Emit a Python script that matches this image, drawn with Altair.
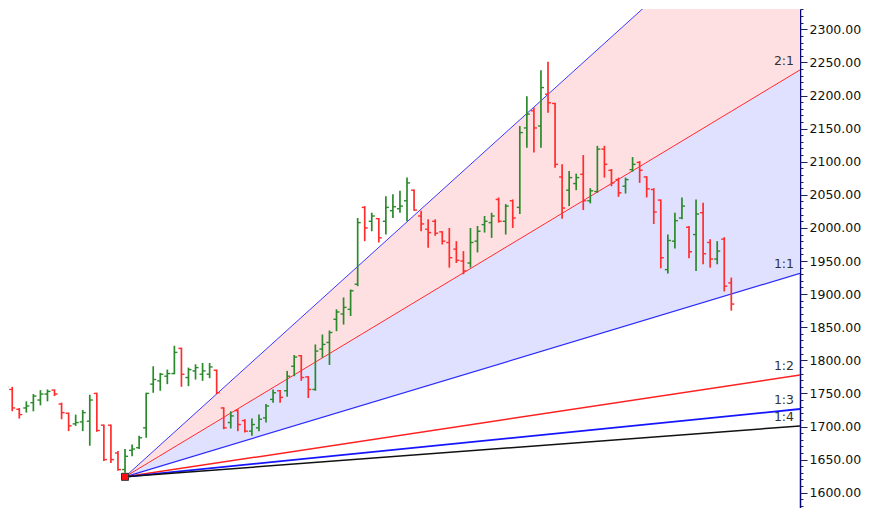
import altair as alt
import pandas as pd
import numpy as np

# ---- OHLC data (bar index 0 = fan anchor bar) ----
bar_index = list(range(-17, 87))
opens = [1755, 1756, 1726, 1728, 1736, 1740, 1749, 1755, 1734, 1720, 1704, 1707, 1708, 1750, 1702, 1702, 1660,
         1635, 1664, 1668, 1698, 1764, 1769, 1776, 1780, 1818, 1774, 1784, 1779, 1779, 1785, 1728, 1706, 1724,
         1709, 1693, 1698, 1713, 1741, 1754, 1754, 1791, 1807, 1775, 1756, 1817, 1827, 1862, 1870, 1877, 1915,
         2031, 2010, 2014, 2010, 2026, 2029, 2041, 2057, 2018, 1998, 2010, 1994, 1978, 1968, 1950, 1947, 1980,
         2005, 2008, 2043, 2010, 2041, 2031, 2151, 2177, 2154, 2202, 2188, 2077, 2057, 2067, 2081, 2041, 2055,
         2119, 2087, 2073, 2063, 2088, 2099, 2077, 2058, 2042, 1937, 1980, 2015, 2001, 1990, 2023, 1978, 1953,
         1983, 1917]
highs = [1766, 1760, 1728, 1738, 1749, 1755, 1756, 1756, 1736, 1721, 1718, 1725, 1748, 1751, 1703, 1703, 1663,
         1666, 1673, 1686, 1751, 1791, 1781, 1786, 1822, 1819, 1789, 1794, 1796, 1796, 1786, 1729, 1723, 1726,
         1711, 1712, 1718, 1734, 1756, 1755, 1784, 1808, 1808, 1776, 1824, 1839, 1845, 1877, 1895, 1907, 2015,
         2033, 2023, 2015, 2048, 2051, 2056, 2076, 2058, 2026, 2013, 2013, 1995, 2000, 1980, 1965, 2000, 2003,
         2018, 2023, 2046, 2036, 2043, 2154, 2199, 2182, 2238, 2251, 2189, 2096, 2086, 2082, 2110, 2060, 2124,
         2124, 2089, 2076, 2076, 2107, 2101, 2078, 2060, 2043, 1990, 2023, 2046, 2003, 2043, 2038, 1983, 1980,
         1986, 1925]
lows = [1741, 1723, 1712, 1721, 1723, 1732, 1738, 1746, 1711, 1693, 1701, 1693, 1671, 1692, 1648, 1645, 1633,
        1630, 1655, 1666, 1683, 1751, 1754, 1764, 1779, 1760, 1761, 1771, 1769, 1773, 1749, 1696, 1697, 1693,
        1691, 1686, 1693, 1706, 1736, 1736, 1745, 1776, 1769, 1743, 1754, 1804, 1793, 1844, 1854, 1867, 1912,
        1980, 1995, 1978, 1990, 2015, 2023, 2010, 2026, 1995, 1970, 1988, 1975, 1940, 1947, 1930, 1940, 1963,
        1993, 1985, 2008, 1990, 2000, 2021, 2121, 2114, 2121, 2174, 2091, 2014, 2033, 2057, 2027, 2037, 2053,
        2076, 2063, 2047, 2052, 2085, 2068, 2046, 2006, 1939, 1931, 1969, 2013, 1954, 1935, 1945, 1940, 1945,
        1904, 1875]
closes = [1760, 1728, 1718, 1731, 1746, 1749, 1753, 1749, 1721, 1701, 1706, 1721, 1740, 1694, 1650, 1650, 1635,
          1655, 1666, 1683, 1750, 1771, 1779, 1780, 1812, 1779, 1786, 1789, 1784, 1790, 1751, 1698, 1716, 1703,
          1693, 1703, 1711, 1731, 1751, 1744, 1776, 1805, 1774, 1756, 1814, 1824, 1842, 1873, 1880, 1905, 2008,
          2000, 2018, 1985, 2031, 2032, 2033, 2068, 2027, 2006, 1993, 1992, 1980, 1955, 1951, 1935, 1978, 1995,
          2010, 2018, 2010, 2033, 2015, 2144, 2172, 2151, 2212, 2189, 2096, 2030, 2076, 2076, 2041, 2056, 2119,
          2096, 2068, 2053, 2073, 2096, 2087, 2059, 2024, 1955, 1981, 2011, 2033, 1964, 2021, 1961, 1953, 1965,
          1912, 1885]

# ---- Gann fan ----
anchor_bar = 0
anchor_price = 1624
unit_slope = 3.21          # price per bar of the 1:1 line
fan_names = ["3:1", "2:1", "1:1", "1:2", "1:3", "1:4"]
fan_mult = [3, 2, 1, 0.5, 1 / 3, 0.25]
fan_colors = ["#3a3aff", "#ff2a2a", "#2a2aff", "#ff2020", "#1515ff", "#111111"]
fan_widths = [1.0, 1.0, 1.2, 1.5, 1.8, 1.5]
label_names = ["2:1", "1:1", "1:2", "1:3", "1:4"]
band_colors = ["#ffe0e2", "#e0e0ff"]   # 3:1-2:1 band, 2:1-1:1 band

x_min, x_max = -16.6, 95.745
y_min, y_max = 1575.4, 2330.7
major_ticks = list(range(1600, 2331, 50))
minor_ticks = list(range(1580, 2331, 10))

df = pd.DataFrame({"bar": bar_index, "open": opens, "high": highs, "low": lows, "close": closes})
df["dir"] = np.where(df["close"] >= df["open"], "up", "down")
df["left"] = df["bar"] - 0.43
df["right"] = df["bar"] + 0.43

fan_rows = []
for n, m, c, w in zip(fan_names, fan_mult, fan_colors, fan_widths):
    for b in (anchor_bar, x_max):
        fan_rows.append({"name": n, "bar": b, "price": anchor_price + unit_slope * m * (b - anchor_bar),
                         "col": c, "w": w})
fan_df = pd.DataFrame(fan_rows)

band_rows = []
for (hi_m, lo_m), col, nm in zip([(3, 2), (2, 1)], band_colors, ["a", "b"]):
    for b in (anchor_bar, x_max):
        band_rows.append({"band": nm, "bar": b,
                          "hi": anchor_price + unit_slope * hi_m * (b - anchor_bar),
                          "lo": anchor_price + unit_slope * lo_m * (b - anchor_bar),
                          "col": col})
band_df = pd.DataFrame(band_rows)

lab_df = fan_df[(fan_df["bar"] == x_max) & (fan_df["name"].isin(label_names))]

xs = alt.Scale(domain=[x_min, x_max], nice=False, zero=False)
ys = alt.Scale(domain=[y_min, y_max], nice=False, zero=False)

major_axis = alt.Axis(
    orient="right", values=major_ticks, grid=False, title=None, format=".2f",
    tickSize=7, domainColor="#000080", domainWidth=1.5, tickColor="#20205a", tickWidth=1,
    labelFont="DejaVu Sans", labelFontSize=12.5, labelColor="#111111", labelPadding=2,
    labelOverlap=False, labelBound=False, labelFlush=False,
)
minor_axis = alt.Axis(
    orient="right", values=minor_ticks, grid=False, title=None, labels=False,
    tickSize=3, domain=False, tickColor="#20205a", tickWidth=1,
)

bands = alt.Chart(band_df).mark_area(clip=True, opacity=1).encode(
    x=alt.X("bar:Q", scale=xs, axis=None),
    y=alt.Y("lo:Q", scale=ys, axis=major_axis),
    y2="hi:Q",
    color=alt.Color("col:N", scale=None),
    detail="band:N",
)

fan = alt.Chart(fan_df).mark_line(clip=True).encode(
    x=alt.X("bar:Q", scale=xs, axis=None),
    y=alt.Y("price:Q", scale=ys, axis=minor_axis),
    color=alt.Color("col:N", scale=None),
    strokeWidth=alt.StrokeWidth("w:Q", scale=None),
    detail="name:N",
)

bar_color = alt.Color("dir:N", scale=alt.Scale(domain=["up", "down"], range=["#2b8a2b", "#ff2d2d"]), legend=None)
base = alt.Chart(df)
wick = base.mark_rule(clip=True, strokeWidth=1.7).encode(
    x=alt.X("bar:Q", scale=xs, axis=None), y=alt.Y("low:Q", scale=ys, axis=None), y2="high:Q", color=bar_color)
otick = base.mark_rule(clip=True, strokeWidth=1.4).encode(
    x=alt.X("left:Q", scale=xs, axis=None), x2="bar:Q", y=alt.Y("open:Q", scale=ys, axis=None), color=bar_color)
ctick = base.mark_rule(clip=True, strokeWidth=1.4).encode(
    x=alt.X("bar:Q", scale=xs, axis=None), x2="right:Q", y=alt.Y("close:Q", scale=ys, axis=None), color=bar_color)

anchor = alt.Chart(pd.DataFrame({"bar": [anchor_bar], "price": [anchor_price]})).mark_square(
    size=49, fill="#ff1010", stroke="#333333", strokeWidth=1, opacity=1).encode(
    x=alt.X("bar:Q", scale=xs, axis=None), y=alt.Y("price:Q", scale=ys, axis=None))

labels = alt.Chart(lab_df).mark_text(
    align="right", baseline="alphabetic", dx=-6, dy=-5, font="DejaVu Sans", fontSize=12.5, color="#333333"
).encode(x=alt.X("bar:Q", scale=xs, axis=None), y=alt.Y("price:Q", scale=ys, axis=None), text="name:N")

chart = alt.layer(bands, fan, wick, otick, ctick, anchor, labels).resolve_axis(y="independent").properties(
    width=792, height=500, padding=0
).configure_view(strokeWidth=0)

chart.save("out.html", embed_options={"renderer": "svg", "actions": False})
